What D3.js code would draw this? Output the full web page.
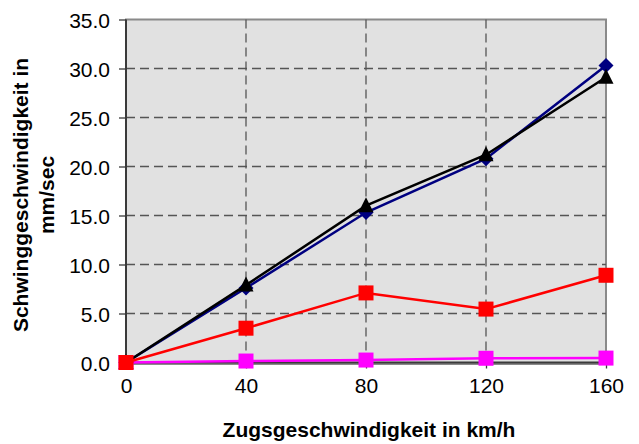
<!DOCTYPE html>
<html><head><meta charset="utf-8">
<script src="https://cdn.jsdelivr.net/npm/d3@7"></script>
<style>body{margin:0;background:#fff}svg{display:block;font-family:"Liberation Sans",Arial,sans-serif}</style>
</head><body><svg id="c" width="639" height="444"></svg>
<script>
const speeds = [0, 40, 80, 120, 160];
const seriesBlue = [0, 7.6, 15.3, 20.8, 30.3];
const seriesBlack = [0, 7.9, 16.0, 21.2, 29.1];
const seriesRed = [0, 3.5, 7.1, 5.45, 8.9];
const seriesMagenta = [0, 0.15, 0.25, 0.43, 0.45];
const yTicks = [0, 5, 10, 15, 20, 25, 30, 35];
const xTitle = "Zugsgeschwindigkeit in km/h";
const yTitle = ["Schwinggeschwindigkeit in", "mm/sec"];

const svg = d3.select("#c");
const L = 126, R = 606, T = 19.5, B = 362.5;
const x = d3.scaleLinear().domain([0, 160]).range([L, R]);
const y = d3.scaleLinear().domain([0, 35]).range([B, T]);

svg.append("rect").attr("x", L).attr("y", T).attr("width", R - L).attr("height", B - T + 1.5).attr("fill", "#e1e1e1")
  .attr("stroke", "#8a8a8a").attr("stroke-width", 2);

// grid
const g = svg.append("g");
g.selectAll(".hg").data(yTicks.filter(d => d > 0 && d < 35)).join("line")
  .attr("x1", L).attr("x2", R).attr("y1", d => y(d)).attr("y2", d => y(d))
  .attr("stroke", "#555").attr("stroke-width", 1.3).attr("stroke-dasharray", "9,5");
g.selectAll(".vg").data(speeds.filter(d => d > 0 && d < 160)).join("line")
  .attr("y1", T).attr("y2", B).attr("x1", d => x(d)).attr("x2", d => x(d))
  .attr("stroke", "#555").attr("stroke-width", 1.3).attr("stroke-dasharray", "9,5");

// axes
const ya = svg.append("g").attr("transform", `translate(${L},0)`)
  .call(d3.axisLeft(y).tickValues(yTicks).tickFormat(d3.format(".1f")).tickSize(7).tickPadding(9));
const xa = svg.append("g").attr("transform", `translate(0,${B})`)
  .call(d3.axisBottom(x).tickValues(speeds).tickFormat(d3.format("d")).tickSize(6).tickPadding(10));
[ya, xa].forEach(a => {
  a.select(".domain").attr("stroke", "#3a3a3a").attr("stroke-width", 2);
  a.selectAll(".tick line").attr("stroke", "#3a3a3a").attr("stroke-width", 1.3);
  a.selectAll("text").attr("font-size", 21).attr("fill", "#000").attr("font-family", "Liberation Sans, Arial, sans-serif");
});
ya.select(".domain").attr("d", `M0,${B}V${T}`);
xa.select(".domain").attr("d", `M${L},0H${R}`);
ya.selectAll("text").attr("dy", "0.36em");

const line = d3.line().x((d, i) => x(speeds[i])).y(d => y(d));
const shapes = {
  square: "M-7.5,-7.5H7.5V7.5H-7.5Z",
  diamond: "M0,-7.5L7.5,0L0,7.5L-7.5,0Z",
  triangle: "M0,-8.5L7.5,6.5H-7.5Z"
};
const series = [
  {v: seriesMagenta, c: "#ff00ff", s: "square"},
  {v: seriesBlue, c: "#000080", s: "diamond"},
  {v: seriesBlack, c: "#000000", s: "triangle"},
  {v: seriesRed, c: "#ff0000", s: "square"}
];
series.forEach(sr => {
  svg.append("path").datum(sr.v).attr("d", line).attr("fill", "none").attr("stroke", sr.c).attr("stroke-width", 2.5);
  svg.append("g").selectAll("path").data(sr.v).join("path")
    .attr("transform", (d, i) => `translate(${x(speeds[i])},${y(d)})`)
    .attr("d", shapes[sr.s]).attr("fill", sr.c);
});

// titles
svg.append("text").attr("x", 369).attr("y", 437).attr("text-anchor", "middle")
  .attr("font-size", 21).attr("font-weight", "bold").text(xTitle);
const yt = svg.append("text").attr("transform", `translate(0,${(T + B) / 2 + 4}) rotate(-90)`)
  .attr("text-anchor", "middle").attr("font-size", 21).attr("font-weight", "bold");
yt.append("tspan").attr("x", 0).attr("y", 28).text(yTitle[0]);
yt.append("tspan").attr("x", 0).attr("y", 54).text(yTitle[1]);
</script></body></html>
